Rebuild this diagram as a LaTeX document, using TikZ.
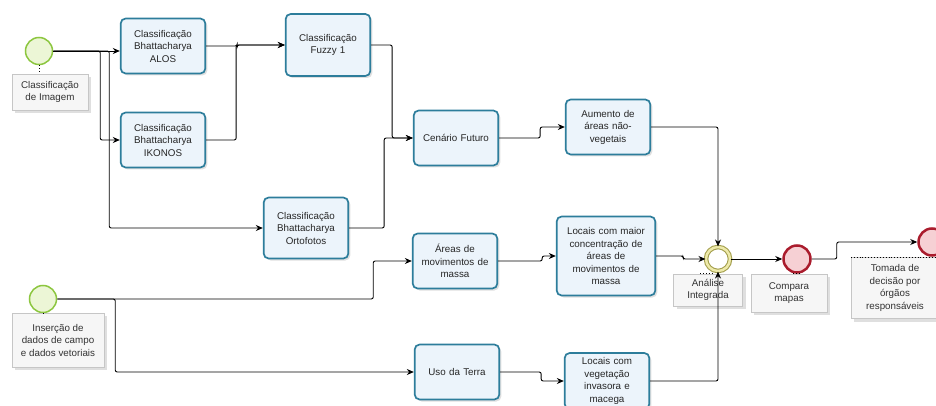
\documentclass[tikz,border=0pt]{standalone}
\usepackage{fontspec}
\setmainfont{Liberation Sans}
\usetikzlibrary{arrows.meta,positioning,calc,shadows}

\definecolor{taskline}{RGB}{45,125,155}
\definecolor{taskfill}{RGB}{236,244,251}
\definecolor{startline}{RGB}{140,198,63}
\definecolor{startfill}{RGB}{236,246,214}
\definecolor{endline}{RGB}{170,28,45}
\definecolor{endfill}{RGB}{246,208,212}
\definecolor{midline}{RGB}{165,160,80}
\definecolor{midfill}{RGB}{238,234,170}

\begin{document}
\begin{tikzpicture}[x=1pt,y=-1pt,
    task/.style={draw=taskline, line width=1.7pt, rounded corners=5pt, fill=taskfill,
      minimum width=82pt, minimum height=55pt, text width=78pt, align=center,
      font=\fontsize{9.8}{12.5}\selectfont, text=black!85,
      drop shadow={opacity=0.25, shadow xshift=2pt, shadow yshift=-2pt}},
    evlabel/.style={draw=gray!45, fill=gray!7, align=center, text=black!80,
      font=\fontsize{9.8}{12.5}\selectfont, inner sep=2pt,
      drop shadow={opacity=0.25, shadow xshift=3pt, shadow yshift=-3pt}},
    start/.style={circle, draw=startline, line width=1.5pt, fill=startfill, minimum size=27pt},
    finish/.style={circle, draw=endline, line width=2.5pt, fill=endfill, minimum size=27pt},
    inter/.style={circle, draw=midline, line width=1.1pt, double=midfill, double distance=2.4pt,
      fill=white, minimum size=24pt},
    flow/.style={draw, line width=0.9pt, rounded corners=2pt, -{Stealth[length=7pt,width=6pt]}},
    assoc/.style={draw, line width=0.9pt, dotted}]

    \useasboundingbox (0,0) rectangle (936,406);

    \node[start] (img) at (39,51) {};
    \node[evlabel, minimum width=76pt, minimum height=36pt] (imglbl) at (50,92) {Classificação\\de Imagem};
    \node[task] (alos) at (163,46) {Classificação\\Bhattacharya\\ALOS};
    \node[task] (ikonos) at (163,140) {Classificação\\Bhattacharya\\IKONOS};
    \node[task, minimum height=62pt] (fuzzy) at (328,45) {Classificação\\Fuzzy 1};
    \node[task, minimum height=61pt] (orto) at (306,228) {Classificação\\Bhattacharya\\Ortofotos};
    \node[task] (cenario) at (456,138) {Cenário Futuro};
    \node[task] (aumento) at (608,127) {Aumento de\\áreas não-\\vegetais};
    \node[task] (massa) at (455,261) {Áreas de\\movimentos de\\massa};
    \node[task, minimum width=94pt, minimum height=79pt, text width=92pt] (locmassa) at (606,256)
      {Locais com maior\\concentração de\\áreas de\\movimentos de\\massa};

    \node[start] (dados) at (43,299) {};
    \node[evlabel, minimum width=92pt, minimum height=54pt] (dadoslbl) at (58,340)
      {Inserção de\\dados de campo\\e dados vetoriais};
    \node[task] (uso) at (457,372) {Uso da Terra};
    \node[task, minimum height=56pt] (locveg) at (607,381) {Locais com\\vegetação\\invasora e\\macega};

    \node[inter] (analise) at (718,259) {};
    \node[evlabel, minimum width=69pt, minimum height=32pt] (analiselbl) at (708,290) {Análise\\Integrada};
    \node[finish] (compara) at (797,259) {};
    \node[evlabel, minimum width=76pt, minimum height=38pt] (comparalbl) at (789,293) {Compara\\mapas};
    \node[finish] (tomada) at (932,242) {};
    \node[evlabel, minimum width=88pt, minimum height=61pt] (tomadalbl) at (895,288)
      {Tomada de\\decisão por\\órgãos\\responsáveis};

    \draw[assoc] (img.south) -- (img.south |- imglbl.north);
    \draw[assoc] (dados.south) -- (dados.south |- dadoslbl.north);
    \draw[assoc] ([xshift=-8pt]analiselbl.north) -- ([xshift=6pt]analiselbl.north);
    \draw[assoc] ([xshift=-4pt]compara.south |- comparalbl.north) -- ([xshift=4pt]compara.south |- comparalbl.north);
    \draw[assoc] (tomadalbl.north west) -- (tomadalbl.north east);

    \draw[flow] (img.east) -- (img.east -| alos.west);
    \draw[flow] (img.east) -- ++(47,0) |- (ikonos.west);
    \draw[flow] (img.east) -- ++(56,0) |- (orto.west);
    \draw[flow] (alos.east) -- ++(31,0) |- (fuzzy.west);
    \draw[flow] (ikonos.east) -- ++(30,0) |- (fuzzy.west);
    \draw[flow] (fuzzy.east) -- ++(21,0) |- (cenario.west);
    \draw[flow] (orto.east) -- ++(35,0) |- (cenario.west);
    \draw[flow] (cenario.east) -- ++(41,0) |- (aumento.west);
    \draw[flow] (aumento.east) -| (analise.north);
    \draw[flow] (dados.east) -- ++(316,0) |- (massa.west);
    \draw[flow] (dados.east) -- ++(58,0) |- (uso.west);
    \draw[flow] (massa.east) -- ++(44,0) |- (locmassa.west);
    \draw[flow] (locmassa.east) -- ++(27,0) |- (analise.west);
    \draw[flow] (uso.east) -- ++(41,0) |- (locveg.west);
    \draw[flow] (locveg.east) -| (analise.south);
    \draw[flow] (analise.east) -- (compara.west);
    \draw[flow] (compara.east) -- ++(25,0) |- (tomada.west);
\end{tikzpicture}
\end{document}
